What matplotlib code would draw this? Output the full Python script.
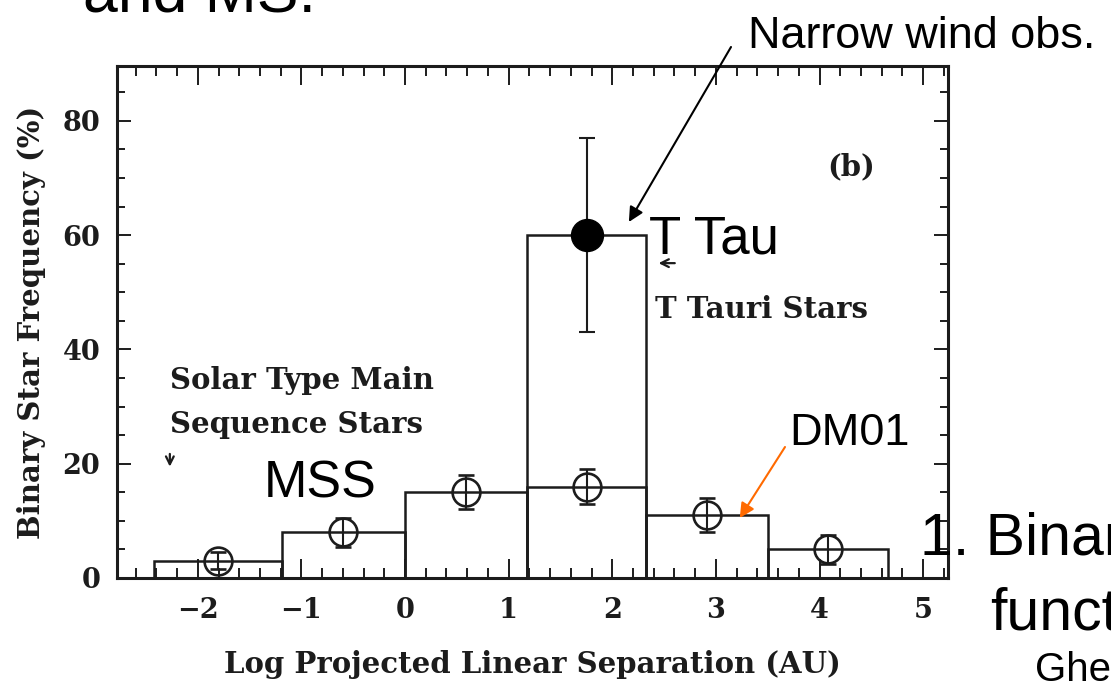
import matplotlib
matplotlib.use("Agg")
import matplotlib.pyplot as plt
from matplotlib.ticker import MultipleLocator
import numpy as np

# Bins in log projected separation (AU)
bin_edges = [-2.42, -1.19, 0.0, 1.18, 2.33, 3.50, 4.66]
# Solar-type main-sequence binary frequency per bin (%)
mss_freq = [3, 8, 15, 16, 11, 5]
mss_err = [1.5, 2.5, 3.0, 3.0, 3.0, 2.5]
# T Tauri binary frequency in the 1.2-2.3 bin (%)
ttau_edges = [1.18, 2.33]
ttau_freq = [60]
ttau_err = [17]

x_ticks = [-2, -1, 0, 1, 2, 3, 4, 5]
y_ticks = [0, 20, 40, 60, 80]

W, H = 1111, 681
fig = plt.figure(figsize=(W / 100, H / 100), dpi=100)
fig.patch.set_facecolor("white")


def fx(px):
    return px / W


def fy(py):
    return 1 - py / H


ax = fig.add_axes([fx(117), fy(578), fx(948) - fx(117), fy(66) - fy(578)])
ax.set_xlim(-2.78, 5.24)
ax.set_ylim(0, 89.6)

ink = "#1c1c1c"
serif = "DejaVu Serif"
sans = "Liberation Sans"
serif_kw = dict(fontfamily=serif, fontweight="bold", color=ink)

edges = np.array(bin_edges)
widths = np.diff(edges)
centers = edges[:-1] + widths / 2

# histogram outlines
ax.bar(edges[:-1], mss_freq, width=widths, align="edge", fill=False,
       edgecolor=ink, linewidth=1.8, zorder=2)
tt_edges = np.array(ttau_edges)
tt_w = np.diff(tt_edges)
ax.bar(tt_edges[:-1], ttau_freq, width=tt_w, align="edge", fill=False,
       edgecolor=ink, linewidth=1.8, zorder=2)

# open circles for main-sequence stars
ax.errorbar(centers, mss_freq, yerr=mss_err, fmt="o", ms=20, mfc="none",
            mec=ink, mew=1.9, ecolor=ink, elinewidth=1.5, capsize=5.5,
            capthick=3, zorder=3)
# filled circle for T Tauri stars
tt_center = tt_edges[:-1] + tt_w / 2
ax.errorbar(tt_center, ttau_freq, yerr=ttau_err, fmt="o", ms=23,
            color="black", ecolor=ink, elinewidth=1.5, capsize=6,
            capthick=1.5, zorder=3)

# axes styling
ax.set_xticks(x_ticks)
ax.set_yticks(y_ticks)
ax.xaxis.set_minor_locator(MultipleLocator(0.2))
ax.yaxis.set_minor_locator(MultipleLocator(5))
ax.tick_params(which="both", direction="in", top=True, right=True,
               color=ink, width=1.4)
ax.tick_params(axis="x", which="major", length=14, pad=14)
ax.tick_params(axis="x", which="minor", length=7)
ax.tick_params(axis="y", which="major", length=10, pad=12)
ax.tick_params(axis="y", which="minor", length=6)
for lab in ax.get_xticklabels() + ax.get_yticklabels():
    lab.set_fontfamily(serif)
    lab.set_fontweight("bold")
    lab.set_fontsize(19.5)
    lab.set_color(ink)
for sp in ax.spines.values():
    sp.set_linewidth(2.2)
    sp.set_color(ink)

ax.set_xlabel("Log Projected Linear Separation (AU)", fontsize=21, **serif_kw)
ax.set_ylabel("Binary Star Frequency (%)", fontsize=21, **serif_kw)
ax.xaxis.set_label_coords(0.5, -0.14)
ax.yaxis.set_label_coords(-0.086, 0.5)

# in-panel labels
ax.text(-2.27, 33.1, "Solar Type Main", fontsize=21, va="baseline",
        ha="left", **serif_kw)
ax.text(-2.27, 25.4, "Sequence Stars", fontsize=21, va="baseline",
        ha="left", **serif_kw)
ax.text(2.41, 45.5, "T Tauri Stars", fontsize=21, va="baseline",
        ha="left", **serif_kw)
ax.text(4.07, 70.5, "(b)", fontsize=21, va="baseline", ha="left",
        **serif_kw)
ax.annotate("", xy=(-2.27, 19.0), xytext=(-2.27, 22.2),
            arrowprops=dict(arrowstyle="->", color=ink, lw=1.6,
                            mutation_scale=14))
ax.annotate("", xy=(2.42, 55.1), xytext=(2.63, 55.1),
            arrowprops=dict(arrowstyle="->", color=ink, lw=1.6,
                            mutation_scale=14))

# slide annotations
fig.text(fx(83), fy(12), "and MS.", fontfamily=sans, fontsize=45,
         va="baseline", ha="left", color="black")
fig.text(fx(748), fy(48), "Narrow wind obs.", fontfamily=sans, fontsize=32.4,
         va="baseline", ha="left", color="black")
fig.text(fx(649), fy(253), "T Tau", fontfamily=sans, fontsize=38,
         va="baseline", ha="left", color="black")
fig.text(fx(264), fy(497), "MSS", fontfamily=sans, fontsize=37.5,
         va="baseline", ha="left", color="black")
fig.text(fx(789), fy(445), "DM01", fontfamily=sans, fontsize=32.5,
         va="baseline", ha="left", color="black")
fig.text(fx(920), fy(555), "1. Binary", fontfamily=sans, fontsize=42.5,
         va="baseline", ha="left", color="black")
fig.text(fx(990), fy(630), "function", fontfamily=sans, fontsize=42.5,
         va="baseline", ha="left", color="black")
fig.text(fx(1035), fy(681), "Ghez et al.", fontfamily=sans, fontsize=29,
         va="baseline", ha="left", color="black")

ax.annotate("", xy=(2.16, 62.3), xycoords="data",
            xytext=(fx(731), fy(47)), textcoords="figure fraction",
            arrowprops=dict(arrowstyle="-|>", color="black", lw=1.5,
                            mutation_scale=22, shrinkA=0, shrinkB=0))
ax.annotate("", xy=(3.23, 10.5), xycoords="data",
            xytext=(fx(785), fy(447)), textcoords="figure fraction",
            arrowprops=dict(arrowstyle="-|>", color="#ff6a00", lw=1.5,
                            mutation_scale=22, shrinkA=0, shrinkB=0))

fig.savefig("out.png", dpi=100, facecolor="white")
